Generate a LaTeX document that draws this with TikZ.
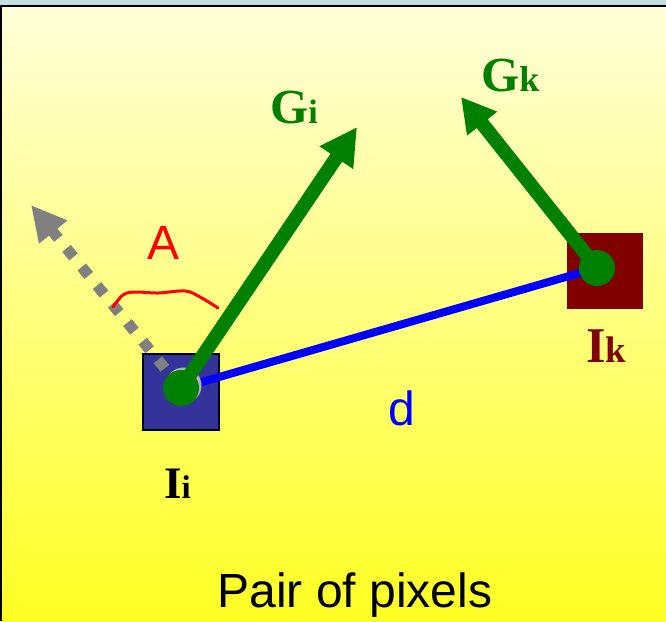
\documentclass[tikz,border=0pt]{standalone}
\usepackage{fontspec}
\setmainfont{Liberation Serif}
\newfontfamily\arialfont{Liberation Sans}
\usetikzlibrary{arrows.meta}
\definecolor{bgtop}{RGB}{255,255,218}
\definecolor{bgbot}{RGB}{255,255,36}
\definecolor{strip}{RGB}{192,224,228}
\definecolor{ggreen}{RGB}{0,128,0}
\definecolor{pixblue}{RGB}{51,51,153}
\definecolor{pixred}{RGB}{128,0,0}
\definecolor{dotgray}{RGB}{128,128,128}
\tikzset{
  pixsq/.style={rectangle, minimum size=76pt, inner sep=0pt},
  dotc/.style={circle, fill=ggreen, minimum size=36pt, inner sep=0pt},
  grad/.style={line width=14pt, ggreen, -{Triangle[length=37pt,width=38pt]}},
  sanslbl/.style={inner sep=0pt, anchor=base, font=\arialfont\fontsize{48}{48}\selectfont},
  serlbl/.style={inner sep=0pt, anchor=base west}
}
\begin{document}
\begin{tikzpicture}[x=1pt,y=-1pt]
\useasboundingbox (0,0) rectangle (666,621);
% background
\shade[top color=bgtop, bottom color=bgbot] (0,6) rectangle (666,621);
\fill[strip] (0,0) rectangle (666,6);
\draw[line width=2.5pt] (0,6) -- (666,6);
\draw[line width=1.5pt] (0.75,6) -- (0.75,621);
% pixels
\node[pixsq, fill=pixblue, draw=black, line width=2pt] (Ii) at (181,391.5) {};
\node[pixsq, fill=pixred] (Ik) at (605,270.5) {};
% coordinates
\coordinate (Gitip) at (357,127);
\coordinate (Gktip) at (461,97);
\coordinate (Atip) at (31,205);
\coordinate (ci) at (181,388);
\coordinate (ck) at (597,268);
% gray dotted direction
\draw[dotgray, line width=11pt, dash pattern=on 11pt off 13pt, dash phase=-1.5pt,
      -{Triangle[length=35pt,width=34pt]}] (ci) -- (Atip);
% distance line
\draw[blue, line width=8pt] (ci) -- (ck);
% faint gray circle
\node[circle, fill=dotgray!60, minimum size=36pt, inner sep=0pt] at (183.5,385.5) {};
% gradient arrows
\draw[grad] (ci) -- (Gitip);
\draw[grad, -{Triangle[length=34pt,width=36pt]}] (ck) -- (Gktip);
\node[dotc] (di) at (ci) {};
\node[dotc] (dk) at (ck) {};
% angle wiggle
\draw[red, line width=3pt, line cap=round] plot[smooth, tension=0.6] coordinates
  {(113,307) (123,295) (135,292) (158,293) (185,291) (200,297) (218,308)};
% labels
\node[sanslbl, text=red] (A) at (164,259) {A};
\node[sanslbl, text=blue] (d) at (402,425) {d};
\node[sanslbl, text=black] (title) at (355,607) {Pair of pixels};
\node[serlbl, text=ggreen] (Gi) at (270,123) {\fontsize{49}{49}\selectfont\bfseries G\fontsize{34}{34}\selectfont i};
\node[serlbl, text=ggreen] (Gk) at (481,91) {\fontsize{49}{49}\selectfont\bfseries G\fontsize{36}{36}\selectfont k};
\node[serlbl, text=black] (Ii lbl) at (164,498) {\fontsize{45}{45}\selectfont\bfseries I\fontsize{33}{33}\selectfont i};
\node[serlbl, text=pixred] (Ik lbl) at (586,362) {\fontsize{50}{50}\selectfont\bfseries I\fontsize{37}{37}\selectfont k};
\end{tikzpicture}
\end{document}
